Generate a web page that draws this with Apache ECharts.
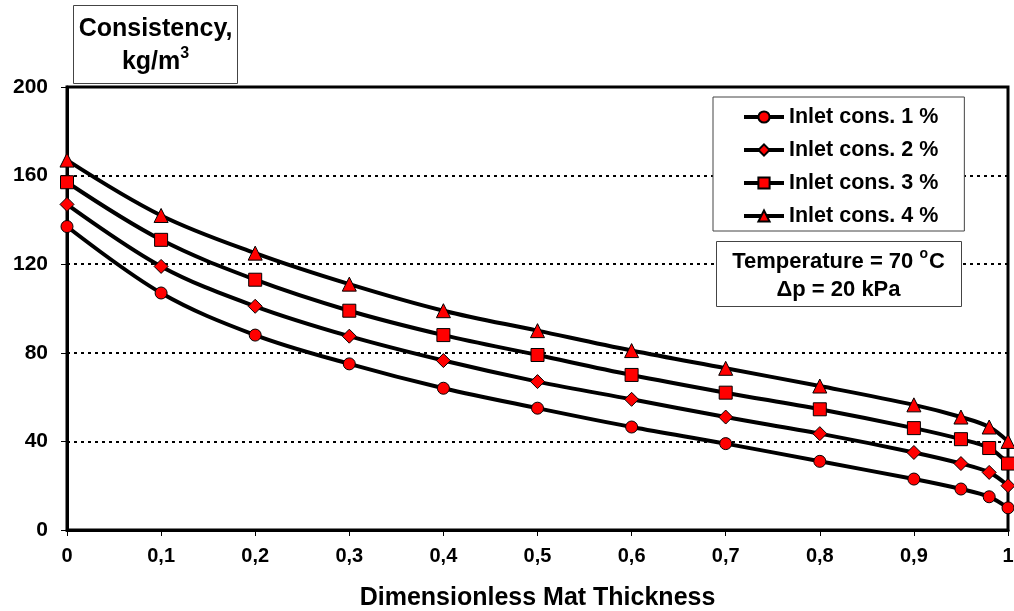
<!DOCTYPE html>
<html>
<head>
<meta charset="utf-8">
<script src="https://cdn.jsdelivr.net/npm/echarts@6/dist/echarts.min.js"></script>
<style>
  html, body { margin: 0; padding: 0; background: #fff; }
  #chart { width: 1014px; height: 611px; }
</style>
</head>
<body>
<div id="chart"></div>
<script>
// Dimensionless mat thickness positions
const thickness = [0, 0.1, 0.2, 0.3, 0.4, 0.5, 0.6, 0.7, 0.8, 0.9, 0.95, 0.98, 1];

// Consistency profiles (kg/m3) for each inlet consistency
const cons1 = [137, 107, 88, 75, 64, 55, 46.5, 39, 31, 23, 18.5, 15, 10];
const cons2 = [147, 119, 101, 87.5, 76.5, 67, 59, 51, 43.5, 35, 30, 26, 20];
const cons3 = [157, 131, 113, 99, 88, 79, 70, 62, 54.5, 46, 41, 37, 30];
const cons4 = [167, 142, 125, 111, 99, 90, 81, 73, 65, 56.5, 51, 46.5, 40];

const seriesNames = ['Inlet cons. 1 %', 'Inlet cons. 2 %', 'Inlet cons. 3 %', 'Inlet cons. 4 %'];
const seriesValues = [cons1, cons2, cons3, cons4];
const symbols = ['circle', 'diamond', 'rect', 'triangle'];
const symbolSizes = [12, 14, 13, 14];

const FONT = '"Liberation Sans", Arial, sans-serif';

const chart = echarts.init(document.getElementById('chart'), null, { renderer: 'canvas' });

const series = seriesValues.map((vals, i) => ({
  name: seriesNames[i],
  type: 'line',
  smooth: 0.35,
  data: thickness.map((x, j) => [x, vals[j]]),
  symbol: symbols[i],
  symbolSize: symbolSizes[i],
  showAllSymbol: true,
  lineStyle: { color: '#000', width: 4 },
  itemStyle: { color: '#ff0000', borderColor: '#000', borderWidth: 1 },
  emphasis: { disabled: true },
  z: 3 + i
}));

chart.setOption({
  animation: false,
  backgroundColor: '#fff',
  grid: {
    left: 67, right: 6, top: 87, bottom: 81,
    show: true, borderColor: '#000', borderWidth: 3,
    containLabel: false,
    outerBoundsMode: 'none'
  },
  xAxis: {
    type: 'value',
    min: 0, max: 1, interval: 0.1,
    name: 'Dimensionless Mat Thickness',
    nameLocation: 'middle',
    nameGap: 56,
    nameTextStyle: { fontFamily: FONT, fontWeight: 'bold', fontSize: 25, color: '#000' },
    axisLine: { show: true, lineStyle: { color: '#000', width: 3 } },
    axisTick: { show: true, length: 6, lineStyle: { color: '#000', width: 1 } },
    axisLabel: {
      margin: 16,
      fontFamily: FONT, fontWeight: 'bold', fontSize: 20, color: '#000',
      formatter: v => String(Math.round(v * 10) / 10).replace('.', ',')
    },
    splitLine: { show: false }
  },
  yAxis: {
    type: 'value',
    min: 0, max: 200, interval: 40,
    axisLine: { show: true, lineStyle: { color: '#000', width: 3 } },
    axisTick: { show: true, length: 6, lineStyle: { color: '#000', width: 1 } },
    axisLabel: {
      margin: 19,
      fontFamily: FONT, fontWeight: 'bold', fontSize: 21, color: '#000'
    },
    splitLine: {
      show: true,
      lineStyle: { color: '#000', width: 2, type: [3, 4] }
    }
  },
  legend: {
    orient: 'vertical',
    left: 713, top: 97,
    padding: [9, 26, 4, 29],
    itemGap: 11,
    itemWidth: 40, itemHeight: 14,
    backgroundColor: '#fff',
    borderColor: '#444', borderWidth: 1,
    lineStyle: { color: '#000', width: 4 },
    textStyle: { fontFamily: FONT, fontWeight: 'bold', fontSize: 21.5, color: '#000', lineHeight: 22 },
    data: seriesNames
  },
  graphic: [
    {
      type: 'group', left: 73, top: 5, z: 100,
      children: [
        { type: 'rect', z: 100, shape: { x: 0, y: 0, width: 164, height: 78 },
          style: { fill: '#fff', stroke: '#444', lineWidth: 1 } },
        { type: 'text', z: 101, x: 82, y: 40,
          style: {
            text: 'Consistency,\n{b|kg/m}{sup|3}',
            align: 'center', verticalAlign: 'middle',
            font: 'bold 25px ' + FONT, fill: '#000', lineHeight: 33,
            rich: {
              b: { font: 'bold 25px ' + FONT, fill: '#000', lineHeight: 33 },
              sup: { font: 'bold 16px ' + FONT, fill: '#000', verticalAlign: 'top', padding: [0, 0, 12, 0], lineHeight: 33 }
            }
          } }
      ]
    },
    {
      type: 'group', left: 716, top: 241, z: 100,
      children: [
        { type: 'rect', z: 100, shape: { x: 0, y: 0, width: 245, height: 65 },
          style: { fill: '#fff', stroke: '#444', lineWidth: 1 } },
        { type: 'text', z: 101, x: 122, y: 34,
          style: {
            text: '{b|Temperature = 70 }{sup|o}{b|C}\n{b|\u0394p = 20 kPa}',
            align: 'center', verticalAlign: 'middle',
            font: 'bold 22px ' + FONT, fill: '#000', lineHeight: 28,
            rich: {
              b: { font: 'bold 22px ' + FONT, fill: '#000', lineHeight: 28 },
              sup: { font: 'bold 14px ' + FONT, fill: '#000', verticalAlign: 'top', padding: [0, 1, 10, 0], lineHeight: 28 }
            }
          } }
      ]
    }
  ],
  series: series
});
</script>
</body>
</html>
